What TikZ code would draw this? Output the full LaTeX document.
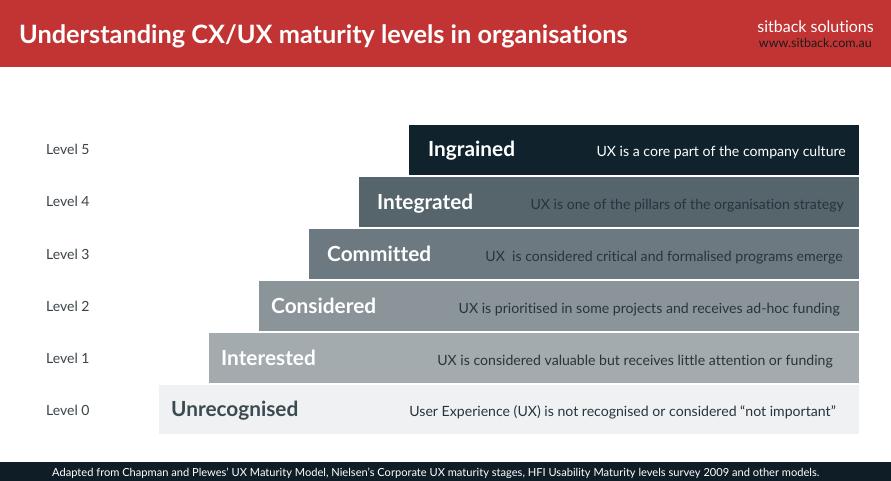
\documentclass[tikz,border=0pt]{standalone}
\usepackage{fontspec}
\setmainfont{Lato}[Ligatures=NoCommon]
\definecolor{hdr}{HTML}{C13433}
\definecolor{ftr}{HTML}{0F1E26}
\definecolor{cfive}{HTML}{10232D}
\definecolor{cfour}{HTML}{56656C}
\definecolor{cthree}{HTML}{6C7980}
\definecolor{ctwo}{HTML}{8A9499}
\definecolor{cone}{HTML}{A3ABAF}
\definecolor{czero}{HTML}{F0F1F2}
\definecolor{dtext}{HTML}{26353D}
\definecolor{ztitle}{HTML}{3C4A52}
\definecolor{lvl}{HTML}{3A4348}
\definecolor{url}{HTML}{1C1C1C}
\begin{document}
\begin{tikzpicture}[x=1pt,y=-1pt,
  bar/.style={anchor=north west, inner sep=0, minimum height=49.7pt, draw=none},
  ttl/.style={anchor=base west, inner sep=0, font=\bfseries\fontsize{20.8}{20.8}\selectfont},
  dsc/.style={anchor=base east, inner sep=0, font=\fontsize{14.1}{14.1}\selectfont},
  lvlabel/.style={anchor=base west, inner sep=0, text=lvl, font=\fontsize{14}{14}\selectfont}]
\useasboundingbox (0,0) rectangle (891,481);
% header
\fill[hdr] (0,0) rectangle (891,67);
\node[anchor=base west, inner sep=0, text=white, font=\bfseries\fontsize{25.3}{25.3}\selectfont] (title) at (19,44) {Understanding CX/UX maturity levels in organisations};
\node[anchor=base east, inner sep=0, text=white, font=\fontsize{16}{16}\selectfont] (brand) at (874,33) {sitback solutions};
\node[anchor=base east, inner sep=0, text=url, font=\fontsize{12.5}{12.5}\selectfont] (web) at (872,48) {www.sitback.com.au};
% bars
\node[bar, fill=cfive, minimum width=450pt] (b5) at (409,125) {};
\node[bar, fill=cfour, minimum width=500pt] (b4) at (359,177) {};
\node[bar, fill=cthree, minimum width=550pt] (b3) at (309,229) {};
\node[bar, fill=ctwo, minimum width=600pt] (b2) at (259,281) {};
\node[bar, fill=cone, minimum width=650pt] (b1) at (209,333) {};
\node[bar, fill=czero, minimum width=700pt] (b0) at (159,384.3) {};
% titles
\node[ttl, text=white] (t5) at (428,157) {Ingrained};
\node[ttl, text=white] (t4) at (377,209) {Integrated};
\node[ttl, text=white] (t3) at (327,261) {Committed};
\node[ttl, text=white] (t2) at (271,313) {Considered};
\node[ttl, text=white] (t1) at (221,365.5) {Interested};
\node[ttl, text=ztitle] (t0) at (171,416.5) {Unrecognised};
% descriptions
\node[dsc, text=white] (d5) at (846,157) {UX is a core part of the company culture};
\node[dsc, text=dtext] (d4) at (844,209) {UX is one of the pillars of the organisation strategy};
\node[dsc, text=dtext] (d3) at (843,261) {UX\ \ is considered critical and formalised programs emerge};
\node[dsc, text=dtext] (d2) at (840,313) {UX is prioritised in some projects and receives ad-hoc funding};
\node[dsc, text=dtext] (d1) at (833,365) {UX is considered valuable but receives little attention or funding};
\node[dsc, text=dtext] (d0) at (836,416) {User Experience (UX) is not recognised or considered “not important”};
% level labels
\node[lvlabel] (l5) at (46,155) {Level 5};
\node[lvlabel] (l4) at (46,207) {Level 4};
\node[lvlabel] (l3) at (46,259) {Level 3};
\node[lvlabel] (l2) at (46,311) {Level 2};
\node[lvlabel] (l1) at (46,363) {Level 1};
\node[lvlabel] (l0) at (46,415) {Level 0};
% footer
\fill[ftr] (0,462) rectangle (891,481);
\node[anchor=base west, inner sep=0, text=white, font=\fontsize{11.1}{11.1}\selectfont] (foot) at (52,476) {Adapted from Chapman and Plewes’ UX Maturity Model, Nielsen’s Corporate UX maturity stages, HFI Usability Maturity levels survey 2009 and other models.};
\end{tikzpicture}
\end{document}
